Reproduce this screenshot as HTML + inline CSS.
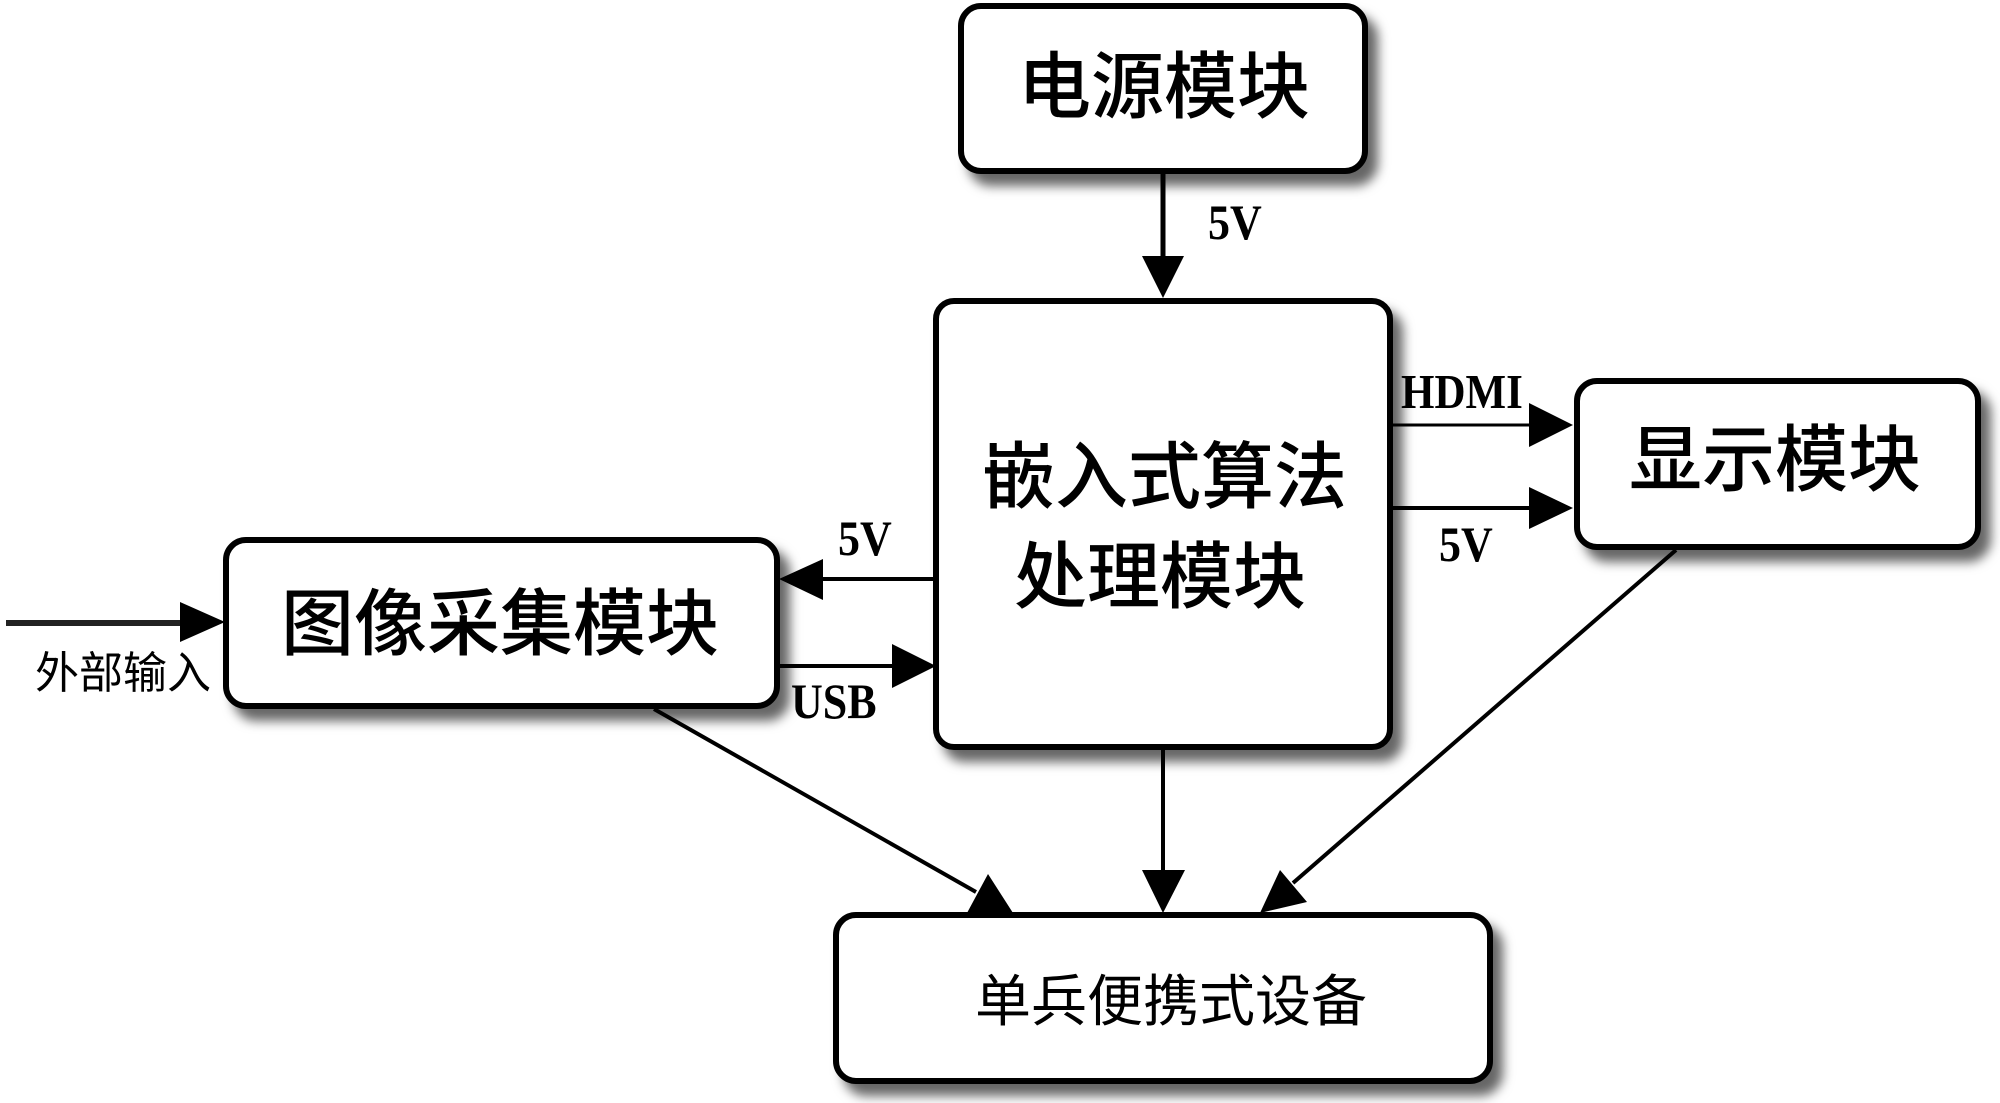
<!DOCTYPE html>
<html><head><meta charset="utf-8"><style>
html,body{margin:0;padding:0;background:#fff}
svg{display:block}
.c{font-family:"Liberation Sans","Noto Sans CJK SC",sans-serif;fill:#000;font-weight:500}
.l{font-family:"Liberation Serif",serif;font-weight:700;fill:#000}
</style></head><body>
<svg width="2000" height="1103" viewBox="0 0 2000 1103" xmlns="http://www.w3.org/2000/svg">
<defs><filter id="s" x="-10%" y="-10%" width="125%" height="130%"><feDropShadow dx="10" dy="12" stdDeviation="5.5" flood-color="#000" flood-opacity=".6"/></filter></defs>
<g fill="#fff" stroke="#000" stroke-width="6">
<rect x="961" y="6" width="404" height="165" rx="20" filter="url(#s)"/>
<rect x="936" y="301" width="454" height="446" rx="18" filter="url(#s)"/>
<rect x="226" y="540" width="551" height="166" rx="20" filter="url(#s)"/>
<rect x="1577" y="381" width="401" height="166" rx="20" filter="url(#s)"/>
<rect x="836" y="915" width="654" height="166" rx="20" filter="url(#s)"/>
</g>
<g stroke="#000" fill="none">
<line x1="1163" y1="174" x2="1163" y2="260" stroke-width="5"/>
<line x1="6" y1="623" x2="185" y2="623" stroke-width="6" stroke="#222"/>
<line x1="820" y1="579" x2="936" y2="579" stroke-width="4"/>
<line x1="779" y1="666" x2="895" y2="666" stroke-width="4"/>
<line x1="1392" y1="425" x2="1532" y2="425" stroke-width="3"/>
<line x1="1392" y1="508" x2="1532" y2="508" stroke-width="4"/>
<line x1="1163" y1="749" x2="1163" y2="875" stroke-width="4"/>
<line x1="654" y1="709" x2="976" y2="892" stroke-width="4"/>
<line x1="1676" y1="550" x2="1293" y2="883" stroke-width="4"/>
</g>
<g fill="#000">
<polygon points="1142,256 1184,256 1163,298"/>
<polygon points="180,602 180,642 225,622"/>
<polygon points="823,559 823,600 779,579"/>
<polygon points="892,644 892,688 936,666"/>
<polygon points="1529,403 1529,447 1573,425"/>
<polygon points="1529,487 1529,529 1573,508"/>
<polygon points="1142,870 1185,870 1163,913"/>
<polygon points="967,913 988,874 1013,913"/>
<polygon points="1280,870 1307,902 1260,913"/>
</g>
<g class="c" font-size="73">
<text x="1018" y="112">电源模块</text>
<text x="982" y="502">嵌入式算法</text>
<text x="1014" y="602">处理模块</text>
<text x="281" y="649">图像采集模块</text>
<text x="1629" y="485">显示模块</text>
<text x="975" y="1021" font-size="56" font-weight="400">单兵便携式设备</text>
<text x="35" y="688" font-size="44" font-weight="400">外部输入</text>
</g>
<g class="l" font-size="44">
<text transform="translate(1208,239) scale(1,1.13)">5V</text>
<text transform="translate(838,555) scale(1,1.13)">5V</text>
<text transform="translate(791,718) scale(1,1.13)">USB</text>
<text transform="translate(1401,408) scale(1,1.13)" font-size="43">HDMI</text>
<text transform="translate(1439,561) scale(1,1.13)">5V</text>
</g>
</svg>
</body></html>
